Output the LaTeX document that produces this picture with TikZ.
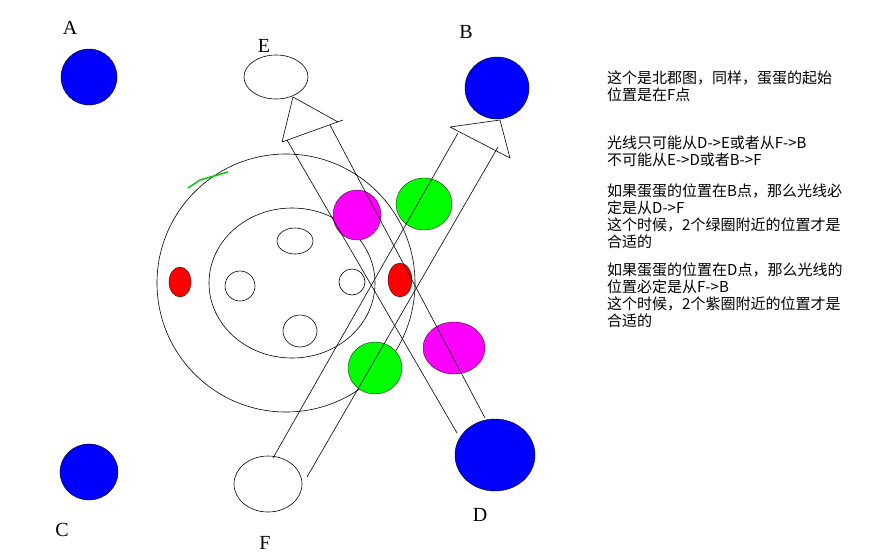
\documentclass[tikz,border=0pt]{standalone}
\usepackage{fontspec}
\newfontfamily\cjk{Noto Sans CJK SC}
\setmainfont{Liberation Serif}
\definecolor{mag}{RGB}{255,0,255}
\definecolor{grn}{RGB}{0,255,0}
\begin{document}
\begin{tikzpicture}[x=1pt,y=-1pt,
  blue disk/.style={fill=blue,draw=black,line width=0.4pt},
  ln/.style={draw=black,line width=0.6pt},
  lab/.style={font=\fontsize{20}{20}\selectfont},
  txt/.style={font=\cjk\fontsize{15}{17}\selectfont,align=left,anchor=north west,inner sep=0pt}]
\useasboundingbox (0,0) rectangle (888,555);
% blue points
\path[blue disk] (89,77) circle (28) node(A){};
\path[blue disk] (89,472) ellipse (29 and 28) node(C){};
\path[blue disk] (497,88) ellipse (32 and 31) node(B){};
\path[blue disk] (495,455) ellipse (40 and 36) node(D){};
\draw[ln] (276,77) ellipse (32 and 22) node(E){};
\draw[ln] (268,484) ellipse (34 and 28) node(F){};
% circles
\draw[ln] (286,283) circle (129);
\draw[ln] (292,283) ellipse (83 and 75);
\draw[ln] (295,241) ellipse (18 and 13);
\draw[ln] (240,286) ellipse (15 and 15);
\draw[ln] (352,282) ellipse (13 and 13);
\draw[ln] (300,331) ellipse (17 and 16);
\fill[red,draw=black,line width=0.3pt] (180,282) ellipse (11 and 15);
\fill[red,draw=black,line width=0.3pt] (400,280) ellipse (12 and 17);
\fill[mag,draw=black,line width=0.3pt] (357,215) ellipse (24 and 25);
\fill[mag,draw=black,line width=0.3pt] (454,348) ellipse (31 and 26);
\fill[grn,draw=black,line width=0.3pt] (424,204) ellipse (28 and 26);
\fill[grn,draw=black,line width=0.3pt] (375,368) ellipse (27 and 26);
\draw[grn!80!black,line width=1.5pt] (188,188) -- (200,180) -- (228,172);
% arrow D->E
\coordinate (d1) at (457,433); \coordinate (d2) at (287,140);
\coordinate (d3) at (485,418); \coordinate (d4) at (330,125);
\coordinate (eh1) at (282,142); \coordinate (eh2) at (343,120); \coordinate (et) at (293,97);
\draw[ln] (d1) -- (d2) (d3) -- (d4) (eh1) -- (eh2) (eh1) -- (et) -- (338,122);
% arrow F->B
\coordinate (f1) at (273,458); \coordinate (f2) at (458,133);
\coordinate (f3) at (307,477); \coordinate (f4) at (498,147);
\coordinate (bh1) at (450,127); \coordinate (bh2) at (510,158); \coordinate (bt) at (500,120);
\draw[ln] (f1) -- (f2) (f3) -- (f4) (bh1) -- (bh2) (bh1) -- (bt) -- (bh2);
% labels
\node[lab] at (70,28) {A};
\node[lab] at (466,32) {B};
\node[lab] at (62,530) {C};
\node[lab] at (480,515) {D};
\node[lab] at (264,46) {E};
\node[lab] at (265,543) {F};
\node[txt] (t1) at (607,71) {这个是北郡图，同样，蛋蛋的起始\\位置是在F点};
\node[txt] (t2) at (607,136) {光线只可能从D->E或者从F->B\\不可能从E->D或者B->F};
\node[txt] (t3) at (607,184) {如果蛋蛋的位置在B点，那么光线必\\定是从D->F\\这个时候，2个绿圈附近的位置才是\\合适的};
\node[txt] (t4) at (607,263) {如果蛋蛋的位置在D点，那么光线的\\位置必定是从F->B\\这个时候，2个紫圈附近的位置才是\\合适的};
\end{tikzpicture}
\end{document}
